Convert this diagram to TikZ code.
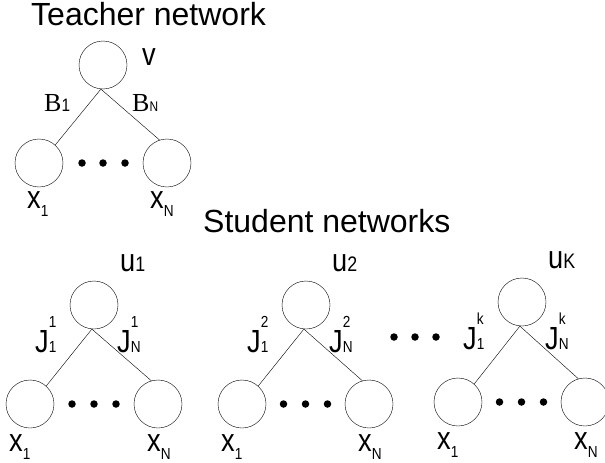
\documentclass[tikz,border=0pt]{standalone}
\usepackage{fontspec}
\setmainfont{Liberation Sans}
\newfontfamily\narrowsf{Liberation Sans}[FakeStretch=0.85]
\newfontfamily\serifB{Liberation Serif}
\newcommand{\stk}[2]{\rlap{\raisebox{25pt}{\fontsize{16}{16}\selectfont #1}}{\fontsize{16}{16}\selectfont #2}}
\newcommand{\lowsub}[1]{\raisebox{-8pt}{\fontsize{16}{16}\selectfont #1}}

\begin{document}
\begin{tikzpicture}[x=1pt, y=-1pt,
  unit/.style={draw, circle, minimum size=48pt, inner sep=0pt},
  dot/.style={fill, circle, minimum size=7.5pt, inner sep=0pt},
  lab/.style={anchor=base west, inner sep=0pt, font=\narrowsf\fontsize{32}{32}\selectfont},
  title/.style={anchor=base west, inner sep=0pt}]
\useasboundingbox (0,0) rectangle (605,463);

% teacher
\node[title, font=\fontsize{32}{32}\selectfont] (ttl) at (31,25) {Teacher network};
\node[unit] (v) at (103,65) {};
\node[unit] (vx1) at (39,163) {};
\node[unit] (vxN) at (167,163) {};
\draw (v.265) -- (vx1.48);
\draw (v.265) -- (vxN.108);
\foreach \i/\x in {1/82,2/103,3/125}
  \node[dot] (vd\i) at (\x,163) {};
\node[lab] (vlab) at (142,65) {v};
\node[lab, font=\serifB\fontsize{26}{26}\selectfont] (b1) at (44,111) {B{\narrowsf\fontsize{18}{18}\selectfont 1}};
\node[lab, font=\serifB\fontsize{26}{26}\selectfont] (bN) at (132,111) {B{\narrowsf\fontsize{14}{14}\selectfont N}};
\node[lab] (vxl) at (27,208) {x\lowsub{1}};
\node[lab] (vxr) at (150,208) {x\lowsub{N}};

% students
\node[title, font=\fontsize{32}{32}\selectfont] (stl) at (203,232) {Student networks};
\foreach \s/\tx/\ty/\lx/\rx/\by/\sup/\sub in {1/94/305/30/158/404/1/1, 2/306/305/242/369/404/2/2, 3/522/302/458/585/402/k/K}
{
  \node[unit] (u\s) at (\tx,\ty) {};
  \node[unit] (l\s) at (\lx,\by) {};
  \node[unit] (r\s) at (\rx,\by) {};
  \draw (u\s.265) -- (l\s.48);
  \draw (u\s.265) -- (r\s.106);
  \foreach \i/\dx in {1/-22,2/0,3/22}
    \node[dot] (d\s\i) at ({(\lx+\rx)/2+\dx},\by) {};
  \node[lab] (ul\s) at (\tx+26,\ty-34) {u{\fontsize{21}{21}\selectfont\sub}};
  \node[lab] (jl\s) at (\tx-59,\ty+47) {J\stk{\sup}{1}};
  \node[lab] (jr\s) at (\tx+23,\ty+47) {J\stk{\sup}{N}};
  \node[lab] (xl\s) at (\lx-21,\by+47) {x\lowsub{1}};
  \node[lab] (xr\s) at (\rx-11,\by+47) {x\lowsub{N}};
}
\foreach \i/\x in {1/394,2/415,3/436}
  \node[dot] (md\i) at (\x,337) {};
\end{tikzpicture}
\end{document}
